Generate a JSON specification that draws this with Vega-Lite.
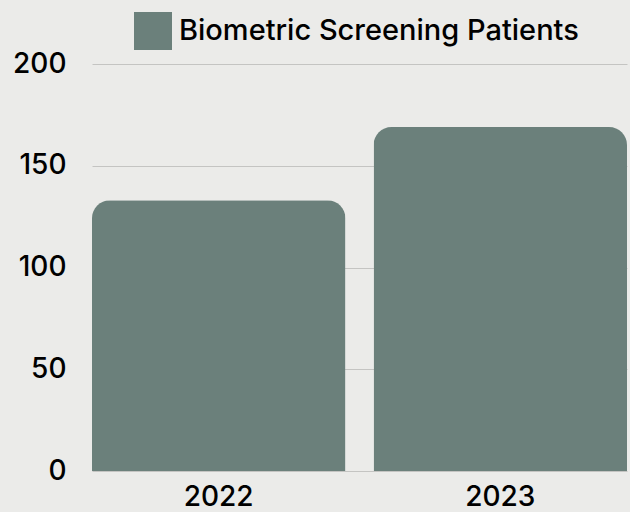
{
  "$schema": "https://vega.github.io/schema/vega-lite/v6.json",
  "width": 535,
  "height": 407,
  "autosize": {"type": "none"},
  "padding": {"left": 92, "top": 64, "right": 3, "bottom": 41},
  "background": "#ebebe9",
  "data": {"values": [
    {"year": "2022", "patients": 133, "series": "Biometric Screening Patients"},
    {"year": "2023", "patients": 169, "series": "Biometric Screening Patients"}
  ]},
  "mark": {"type": "bar", "cornerRadiusTopLeft": 18, "cornerRadiusTopRight": 18},
  "encoding": {
    "x": {
      "field": "year", "type": "nominal",
      "scale": {"paddingInner": 0.1, "paddingOuter": 0},
      "axis": {"title": null, "labelAngle": 0, "labelFontSize": 28, "labelFontWeight": 500, "labelColor": "#000000", "labelFont": "Inter", "ticks": false, "domain": false, "labelPadding": 12, "labelBaseline": "top"}
    },
    "y": {
      "field": "patients", "type": "quantitative",
      "scale": {"domain": [0, 200]},
      "axis": {"title": null, "values": [0, 50, 100, 150, 200], "labelFontSize": 28, "labelFontWeight": 500, "labelColor": "#000000", "labelFont": "Inter", "ticks": false, "domain": false, "labelPadding": 26, "gridColor": "#c4c4c2", "gridWidth": 1}
    },
    "color": {
      "field": "series", "type": "nominal",
      "scale": {"range": ["#6b807b"]},
      "legend": {"title": null, "orient": "none", "legendX": 42, "legendY": -52, "symbolType": "square", "symbolSize": 1444, "symbolStrokeWidth": 0, "labelFontSize": 29, "labelFontWeight": 500, "labelFont": "Inter", "labelColor": "#000000", "labelOffset": 7, "labelLimit": 600}
    }
  },
  "config": {"view": {"stroke": null}}
}
